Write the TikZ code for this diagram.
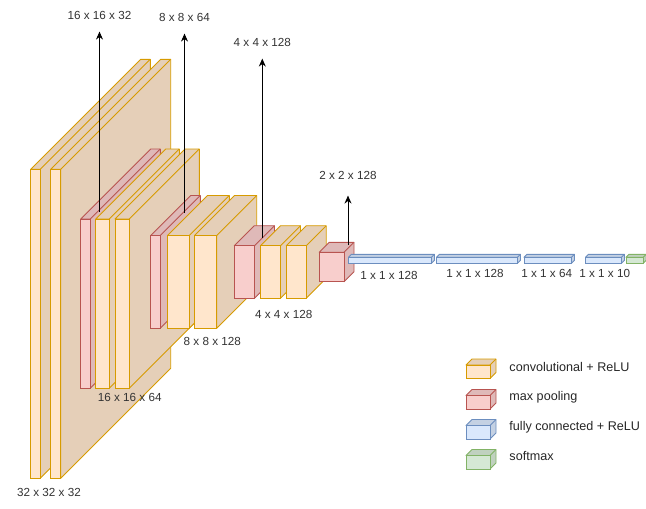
\documentclass[tikz,border=0pt]{standalone}
\usepackage{fontspec}
\setmainfont{Liberation Sans}
\usetikzlibrary{arrows.meta,positioning}

\definecolor{convfill}{HTML}{FFE6CC}
\definecolor{convline}{HTML}{D79B00}
\definecolor{poolfill}{HTML}{F8CECC}
\definecolor{poolline}{HTML}{B85450}
\definecolor{fcfill}{HTML}{DAE8FC}
\definecolor{fcline}{HTML}{6C8EBF}
\definecolor{smfill}{HTML}{D5E8D4}
\definecolor{smline}{HTML}{82B366}

% layer box: name, front corners (x0,y0) (x1,y1), depth, kind
\newcommand{\layer}[7]{%
  \filldraw[draw=#7line, fill=#7fill!90!black, line join=round]
    (#2,#3) -- ++(#6,-#6) -- ({#4+#6},{#3-#6}) -- ({#4+#6},{#5-#6}) -- (#4,#5) -- (#4,#3) -- cycle;
  \draw[draw=#7line] (#4,#3) -- ++(#6,-#6);
  \filldraw[draw=#7line, fill=#7fill] (#2,#3) rectangle (#4,#5);
  \coordinate (#1) at ({(#2+#4)/2},{#5});
}

\begin{document}
\begin{tikzpicture}
  [
    x=1pt, y=-1pt, line width=0.9pt,
    dim/.style={font=\fontsize{11.7}{14}\selectfont, text=black!80, inner sep=3pt},
    legtext/.style={font=\fontsize{12.6}{15}\selectfont, text=black!85, anchor=west, inner sep=0pt},
    dimarrow/.style={-{Stealth[length=8pt,width=7pt]}, line width=0.9pt, shorten >=9pt}
  ]
  \useasboundingbox (0,0) rectangle (646,509);

  % 32 x 32
  \layer{c1a}{30.7}{169.3}{40.3}{478.3}{110}{conv}
  \layer{c1b}{50.7}{169.3}{60.7}{478.3}{110}{conv}
  % 16 x 16
  \layer{p1}{80.7}{219}{90.3}{388.3}{70}{pool}
  \layer{c2a}{95.7}{219}{109.3}{388.3}{70}{conv}
  \layer{c2b}{115}{219}{129.3}{388.3}{70}{conv}
  % 8 x 8
  \layer{p2}{150.7}{235.5}{160.3}{328.3}{40}{pool}
  \layer{c3a}{167.5}{235.5}{189.3}{328.3}{40}{conv}
  \layer{c3b}{194.5}{235.5}{216.7}{328.3}{40}{conv}
  % 4 x 4
  \layer{p3}{234.3}{245.7}{254.5}{298.3}{20}{pool}
  \layer{c4a}{260.5}{245.7}{280.5}{298.3}{20}{conv}
  \layer{c4b}{286.3}{245.7}{306.2}{298.3}{20}{conv}
  % 2 x 2
  \layer{p4}{319.3}{252.3}{344}{281.7}{10}{pool}
  % dense
  \layer{f1}{348.5}{257.3}{431.5}{263.3}{3}{fc}
  \layer{f2}{436.5}{257.3}{517.5}{263.3}{3}{fc}
  \layer{f3}{524}{257.3}{571.5}{263.3}{3}{fc}
  \layer{f4}{585.5}{257.3}{621.5}{263.3}{3}{fc}
  \layer{sm}{626}{257.3}{643.3}{263.3}{3}{sm}

  % sizes
  \node (d1) [dim] at (49,492) {32 x 32 x 32};
  \node (d2) [dim] at (129.7,397.3) {16 x 16 x 64};
  \node (d3) [dim] at (212.3,341.7) {8 x 8 x 128};
  \node (d4) [dim] at (283.7,314.3) {4 x 4 x 128};
  \node (d5) [dim] at (389,275) {1 x 1 x 128};
  \node (d6) [dim] at (475,273.3) {1 x 1 x 128};
  \node (d7) [dim] at (546.7,273.3) {1 x 1 x 64};
  \node (d8) [dim] at (604.7,273.3) {1 x 1 x 10};

  % pooling outputs
  \coordinate (s1) at (99.5,212);
  \coordinate (s2) at (184.5,212.7);
  \coordinate (s3) at (262.3,237.7);
  \coordinate (s4) at (348,245);
  \node (o1) [dim] at (99.5,15) {16 x 16 x 32};
  \node (o2) [dim] at (184.5,17) {8 x 8 x 64};
  \node (o3) [dim] at (262.3,42) {4 x 4 x 128};
  \node (o4) [dim] at (348,175) {2 x 2 x 128};
  \draw [dimarrow] (s1) -- (o1);
  \draw [dimarrow] (s2) -- (o2);
  \draw [dimarrow] (s3) -- (o3);
  \draw [dimarrow, shorten >=13pt] (s4) -- (o4);

  % legend
  \layer{k1}{466}{365}{490}{378.5}{6}{conv}
  \layer{k2}{466}{395.5}{490}{409}{6}{pool}
  \layer{k3}{466}{425.5}{490}{439}{6}{fc}
  \layer{k4}{466}{455.5}{490}{469}{6}{sm}
  \node (t1) [legtext] at (509,367) {convolutional + ReLU};
  \node (t2) [legtext] at (509,397) {max pooling};
  \node (t3) [legtext] at (509,427) {fully connected + ReLU};
  \node (t4) [legtext] at (509,456) {softmax};
\end{tikzpicture}
\end{document}
